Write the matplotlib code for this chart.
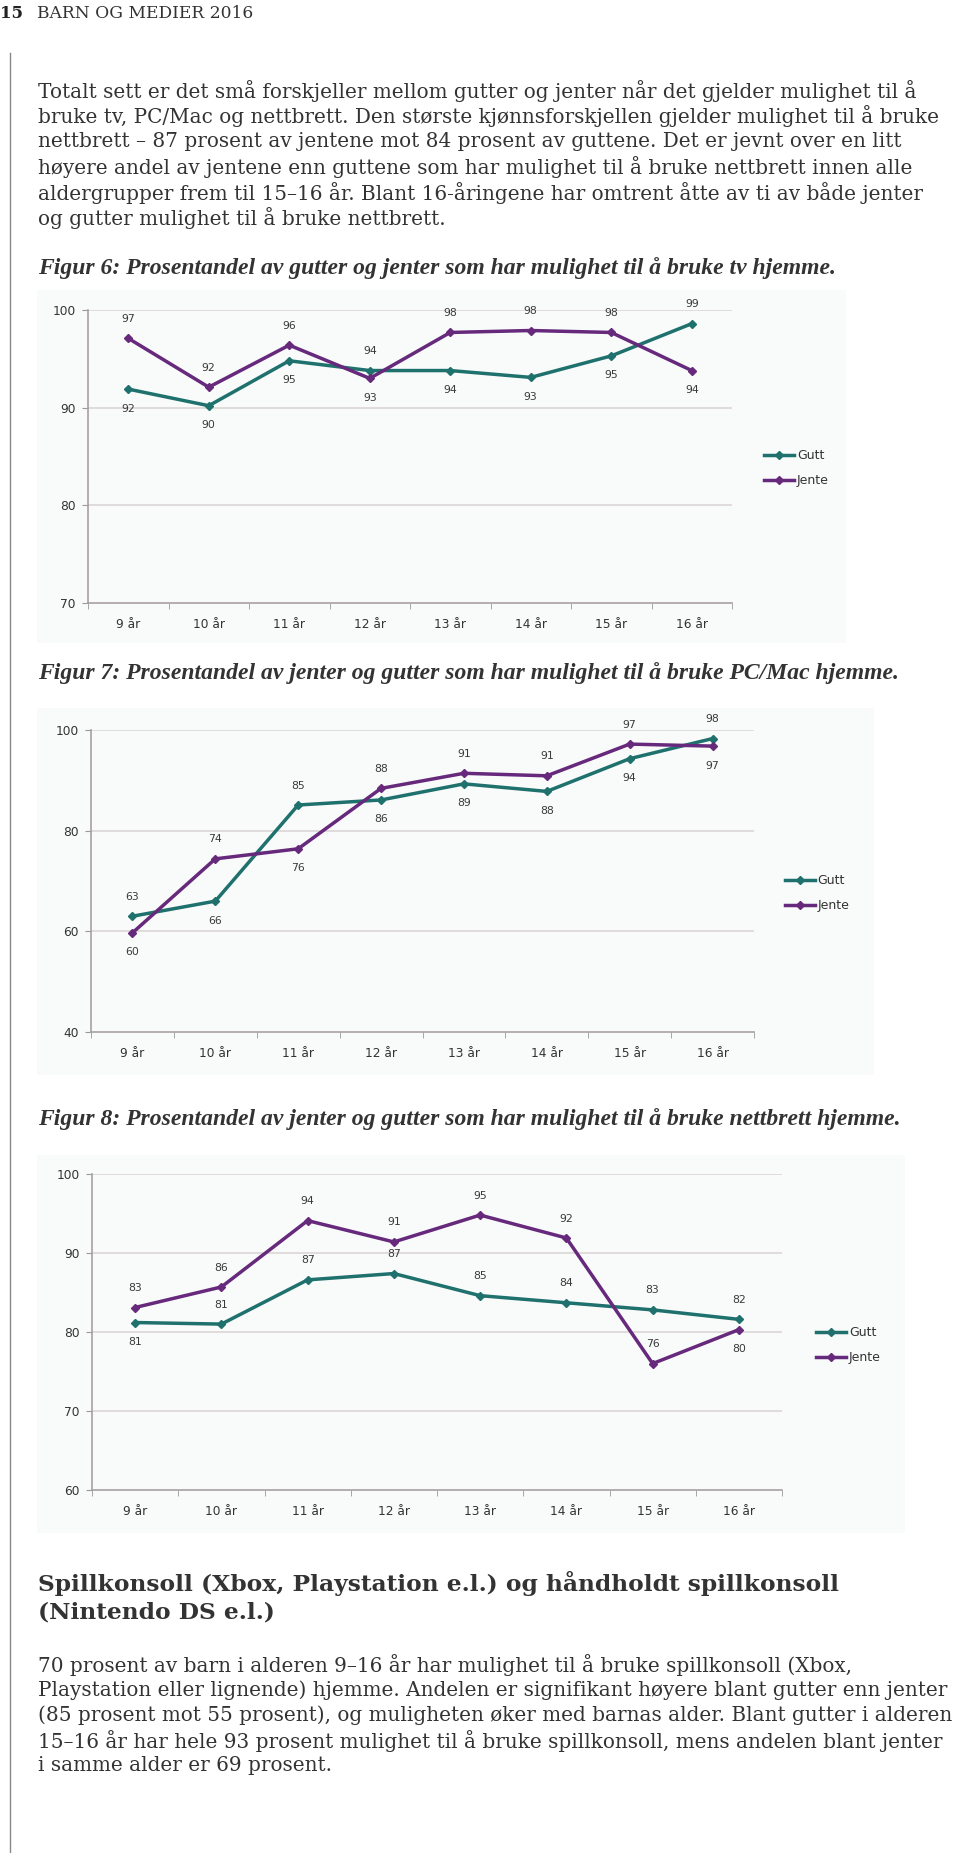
import matplotlib.pyplot as plt
import numpy as np
from matplotlib.patches import Rectangle
from matplotlib.lines import Line2D

W, H = 960, 1853

# data read from the page
alder = ['9 år', '10 år', '11 år', '12 år', '13 år', '14 år', '15 år', '16 år']

tv_gutt = [91.9, 90.2, 94.8, 93.8, 93.8, 93.1, 95.3, 98.6]
tv_jente = [97.1, 92.1, 96.4, 93.0, 97.7, 97.9, 97.7, 93.8]

pc_gutt = [63.0, 66.0, 85.1, 86.1, 89.3, 87.8, 94.3, 98.3]
pc_jente = [59.7, 74.4, 76.4, 88.4, 91.4, 90.9, 97.2, 96.8]

nett_gutt = [81.2, 81.0, 86.6, 87.4, 84.6, 83.7, 82.8, 81.6]
nett_jente = [83.1, 85.7, 94.1, 91.4, 94.8, 91.9, 76.0, 80.3]

gutt_farge = '#1f716d'
jente_farge = '#66297c'

avsnitt1 = [
    'Totalt sett er det små forskjeller mellom gutter og jenter når det gjelder mulighet til å',
    'bruke tv, PC/Mac og nettbrett. Den største kjønnsforskjellen gjelder mulighet til å bruke',
    'nettbrett – 87 prosent av jentene mot 84 prosent av guttene. Det er jevnt over en litt',
    'høyere andel av jentene enn guttene som har mulighet til å bruke nettbrett innen alle',
    'aldergrupper frem til 15–16 år. Blant 16-åringene har omtrent åtte av ti av både jenter',
    'og gutter mulighet til å bruke nettbrett.',
]
avsnitt2 = [
    '70 prosent av barn i alderen 9–16 år har mulighet til å bruke spillkonsoll (Xbox,',
    'Playstation eller lignende) hjemme. Andelen er signifikant høyere blant gutter enn jenter',
    '(85 prosent mot 55 prosent), og muligheten øker med barnas alder. Blant gutter i alderen',
    '15–16 år har hele 93 prosent mulighet til å bruke spillkonsoll, mens andelen blant jenter',
    'i samme alder er 69 prosent.',
]

fig = plt.figure(figsize=(W / 100, H / 100), dpi=100)


def fx(x):
    return x / W


def fy(y):
    return 1 - y / H


def tekst(x, y, s, **kw):
    fig.text(fx(x), fy(y), s, va='center', ha='left', **kw)


# page header and left rule
tekst(0, 14, '15', fontsize=12, fontweight='bold', family='DejaVu Serif', color='#222')
tekst(37, 14, 'BARN OG MEDIER 2016', fontsize=12.3, family='DejaVu Serif', color='#333')
fig.add_artist(Line2D([fx(10), fx(10)], [fy(53), 0], color='#888', lw=1))

for i, linje in enumerate(avsnitt1):
    tekst(38, 91 + 25.4 * i, linje, fontsize=14.4, family='DejaVu Serif', color='#333')

caps = {'family': 'Liberation Serif', 'fontsize': 17, 'fontweight': 'bold',
        'style': 'italic', 'color': '#333'}
tekst(38, 268, 'Figur 6: Prosentandel av gutter og jenter som har mulighet til å bruke tv hjemme.', **caps)
tekst(38, 673, 'Figur 7: Prosentandel av jenter og gutter som har mulighet til å bruke PC/Mac hjemme.', **caps)
tekst(38, 1119, 'Figur 8: Prosentandel av jenter og gutter som har mulighet til å bruke nettbrett hjemme.', **caps)

tekst(38, 1583, 'Spillkonsoll (Xbox, Playstation e.l.) og håndholdt spillkonsoll',
      fontsize=16.8, fontweight='bold', family='DejaVu Serif', color='#333')
tekst(38, 1613, '(Nintendo DS e.l.)', fontsize=16.8, fontweight='bold', family='DejaVu Serif', color='#333')
for i, linje in enumerate(avsnitt2):
    tekst(38, 1665 + 25.2 * i, linje, fontsize=14.4, family='DejaVu Serif', color='#333')


def tegn_figur(ax_px, box_px, gutt, jente, ylim, yticks, leg_px, gutt_side=None, jente_side=None):
    # light grey panel behind the chart
    bx0, by0, bx1, by1 = box_px
    fig.add_artist(Rectangle((fx(bx0), fy(by1)), (bx1 - bx0) / W, (by1 - by0) / H,
                             facecolor='#f9fafa', edgecolor='none', zorder=0))
    x0, y0, x1, y1 = ax_px
    ax = fig.add_axes([fx(x0), fy(y1), (x1 - x0) / W, (y1 - y0) / H])
    ax.patch.set_alpha(0)
    x = np.arange(len(alder))
    g = np.array(gutt)
    j = np.array(jente)
    ax.plot(x, g, color=gutt_farge, lw=2.5, marker='D', ms=4, label='Gutt', zorder=3)
    ax.plot(x, j, color=jente_farge, lw=2.5, marker='D', ms=4, label='Jente', zorder=3)

    # data labels: higher series above, lower below, unless given
    if gutt_side is None:
        gutt_side = np.where(g >= j, 1, -1)
    if jente_side is None:
        jente_side = np.where(j > g, 1, -1)
    for serie, side in ((g, gutt_side), (j, jente_side)):
        for xi, v, s in zip(x, serie, side):
            ax.annotate(f'{v:.0f}', (xi, v), xytext=(0, 14 * s), textcoords='offset points',
                        ha='center', va='center', fontsize=7.8, color='#3a3a3a')

    ax.set_xlim(-0.5, len(alder) - 0.5)
    ax.set_ylim(*ylim)
    ax.set_yticks(yticks)
    ax.set_xticks(x)
    ax.set_xticklabels(alder)
    ax.set_xticks(np.arange(-0.5, len(alder)), minor=True)
    ax.tick_params(axis='x', which='major', length=0, pad=11, labelsize=8.8, labelcolor='#333')
    ax.tick_params(axis='x', which='minor', length=4, color='#999', direction='out')
    ax.tick_params(axis='y', length=4, color='#999', pad=5, labelsize=8.8, labelcolor='#333')
    for sp in ('top', 'right'):
        ax.spines[sp].set_visible(False)
    for sp in ('left', 'bottom'):
        ax.spines[sp].set_color('#a8a0a0')
        ax.spines[sp].set_linewidth(1.2)
    for yt in yticks[1:]:
        ax.axhline(yt, color='#dcd6d6', lw=1.2, zorder=1)

    lx, ly = leg_px
    ax.legend(loc='center left', bbox_to_anchor=(fx(lx), fy(ly)), bbox_transform=fig.transFigure,
              frameon=False, fontsize=9, handlelength=2.4, handletextpad=0.2,
              labelspacing=0.95, borderpad=0, labelcolor='#333')
    return ax


tegn_figur((88, 310, 732, 603), (37, 290, 846, 643), tv_gutt, tv_jente,
           (70, 100), [70, 80, 90, 100], (758, 468))
tegn_figur((91, 730, 754, 1032), (37, 708, 874, 1075), pc_gutt, pc_jente,
           (40, 100), [40, 60, 80, 100], (779, 893))
tegn_figur((92, 1174, 782, 1490), (37, 1155, 905, 1533), nett_gutt, nett_jente,
           (60, 100), [60, 70, 80, 90, 100], (810, 1345),
           gutt_side=[-1, 1, 1, 1, 1, 1, 1, 1], jente_side=[1, 1, 1, 1, 1, 1, 1, -1])

fig.savefig('out.png', dpi=100, facecolor='white')
